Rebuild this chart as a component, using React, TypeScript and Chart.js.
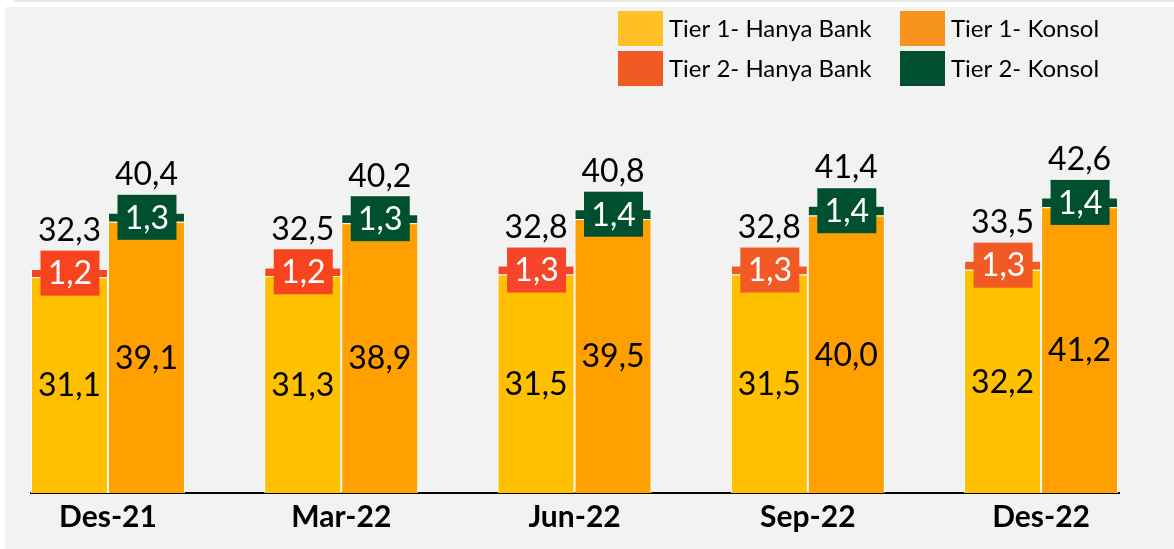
import React, { useEffect, useRef } from "react";
import { Chart, registerables } from "chart.js";

Chart.register(...registerables);

const categories = ["Des-21", "Mar-22", "Jun-22", "Sep-22", "Des-22"];
const tier1Bank = [31.1, 31.3, 31.5, 31.5, 32.2];
const tier2Bank = [1.2, 1.2, 1.3, 1.3, 1.3];
const tier1Konsol = [39.1, 38.9, 39.5, 40.0, 41.2];
const tier2Konsol = [1.3, 1.3, 1.4, 1.4, 1.4];
const totalBank = [32.3, 32.5, 32.8, 32.8, 33.5];
const totalKonsol = [40.4, 40.2, 40.8, 41.4, 42.6];

const seriesNames = [
  "Tier 1- Hanya Bank",
  "Tier 2- Hanya Bank",
  "Tier 1- Konsol",
  "Tier 2- Konsol",
];
const barColors = {
  t1Bank: "#FFC000",
  t2Bank: ["#F8431F", "#F8431F", "#F6452A", "#F15A24", "#F15A24"],
  t1Konsol: "#FFA000",
  t2Konsol: "#00502F",
};
const legendColors = ["#FFC125", "#F15A22", "#F7941D", "#00502F"];

const fmt = (v: number) => v.toFixed(1).replace(".", ",");
const FONT = "Lato, 'Open Sans', sans-serif";

const bgPlugin = {
  id: "bg",
  beforeDraw(chart: any) {
    const ctx = chart.ctx;
    ctx.save();
    ctx.fillStyle = "#ffffff";
    ctx.fillRect(0, 0, chart.width, chart.height);
    ctx.fillStyle = "#e9e9e9";
    ctx.fillRect(14, 0, chart.width - 14, 2);
    ctx.fillStyle = "#f2f2f2";
    ctx.fillRect(5, 7, chart.width - 5, chart.height - 7);
    ctx.restore();
  },
};

const labelPlugin = {
  id: "labels",
  afterDatasetsDraw(chart: any) {
    const ctx = chart.ctx;
    ctx.save();
    ctx.textAlign = "center";
    ctx.textBaseline = "middle";
    ctx.font = `32px ${FONT}`;
    const pairs = [
      { t1: 0, t2: 1, totals: totalBank },
      { t1: 2, t2: 3, totals: totalKonsol },
    ];
    pairs.forEach((p) => {
      const m1 = chart.getDatasetMeta(p.t1);
      const m2 = chart.getDatasetMeta(p.t2);
      const d1 = chart.data.datasets[p.t1];
      const d2 = chart.data.datasets[p.t2];
      m1.data.forEach((el: any, i: number) => {
        const cy = (el.y + el.base) / 2;
        ctx.fillStyle = "#000";
        ctx.fillText(fmt(d1.data[i].y), el.x, cy + 1);
      });
      m2.data.forEach((el: any, i: number) => {
        const cy = (el.y + el.base) / 2;
        const bg = Array.isArray(d2.backgroundColor) ? d2.backgroundColor[i] : d2.backgroundColor;
        ctx.fillStyle = bg;
        ctx.fillRect(el.x - 29, cy - 22.5, 59, 45);
        ctx.fillStyle = "#fff";
        ctx.fillText(fmt(d2.data[i].y), el.x + 0.5, cy + 1);
        ctx.fillStyle = "#000";
        ctx.fillText(fmt(p.totals[i]), el.x, el.y - 38);
      });
    });
    ctx.restore();
  },
};

const legendPlugin = {
  id: "customLegend",
  afterDraw(chart: any) {
    const ctx = chart.ctx;
    ctx.save();
    ctx.font = `24px ${FONT}`;
    ctx.textBaseline = "middle";
    ctx.textAlign = "left";
    const items = [
      { idx: 0, x: 618, y: 11 },
      { idx: 2, x: 900, y: 11 },
      { idx: 1, x: 618, y: 51 },
      { idx: 3, x: 900, y: 51 },
    ];
    items.forEach((it) => {
      ctx.fillStyle = legendColors[it.idx];
      ctx.fillRect(it.x, it.y, 45, 35);
      ctx.fillStyle = "#000";
      ctx.fillText(seriesNames[it.idx], it.x + 51, it.y + 18);
    });
    ctx.restore();
  },
};

export default function App() {
  const ref = useRef<HTMLCanvasElement | null>(null);
  useEffect(() => {
    if (!ref.current) return;
    const toXY = (arr: number[]) => arr.map((y, i) => ({ x: i, y }));
    const chart = new Chart(ref.current, {
      type: "bar",
      data: {
        datasets: [
          { label: seriesNames[0], data: toXY(tier1Bank), backgroundColor: barColors.t1Bank, stack: "bank" },
          { label: seriesNames[1], data: toXY(tier2Bank), backgroundColor: barColors.t2Bank, stack: "bank" },
          { label: seriesNames[2], data: toXY(tier1Konsol), backgroundColor: barColors.t1Konsol, stack: "konsol" },
          { label: seriesNames[3], data: toXY(tier2Konsol), backgroundColor: barColors.t2Konsol, stack: "konsol" },
        ] as any,
      },
      options: {
        animation: false,
        responsive: false,
        maintainAspectRatio: false,
        devicePixelRatio: 1,
        datasets: {
          bar: {
            categoryPercentage: 0.66,
            barPercentage: 1,
            borderColor: "#ffffff",
            borderWidth: 1,
          },
        } as any,
        layout: { padding: { left: 31, right: 55, top: 63, bottom: 8 } },
        plugins: {
          legend: { display: false },
          tooltip: { enabled: false },
        },
        scales: {
          x: {
            type: "linear",
            offset: false,
            min: -0.33,
            max: 4.334,
            grid: { display: false, drawTicks: false },
            border: { display: true, color: "#000", width: 2 },
            afterBuildTicks: (scale: any) => {
              scale.ticks = categories.map((_, i) => ({ value: i }));
            },
            ticks: {
              autoSkip: false,
              maxRotation: 0,
              padding: 6,
              color: "#000",
              font: { family: FONT, size: 30, weight: "bold" },
              callback: (v: any) => categories[v] ?? "",
            },
          },
          y: {
            display: false,
            stacked: true,
            min: 0,
            max: 62,
          },
        },
      },
      plugins: [bgPlugin, labelPlugin, legendPlugin],
    });
    return () => chart.destroy();
  }, []);
  return (
    <div style={{ position: "absolute", left: 0, top: 0, width: 1174, height: 549 }}>
      <canvas ref={ref} width={1174} height={549} style={{ display: "block" }} />
    </div>
  );
}
